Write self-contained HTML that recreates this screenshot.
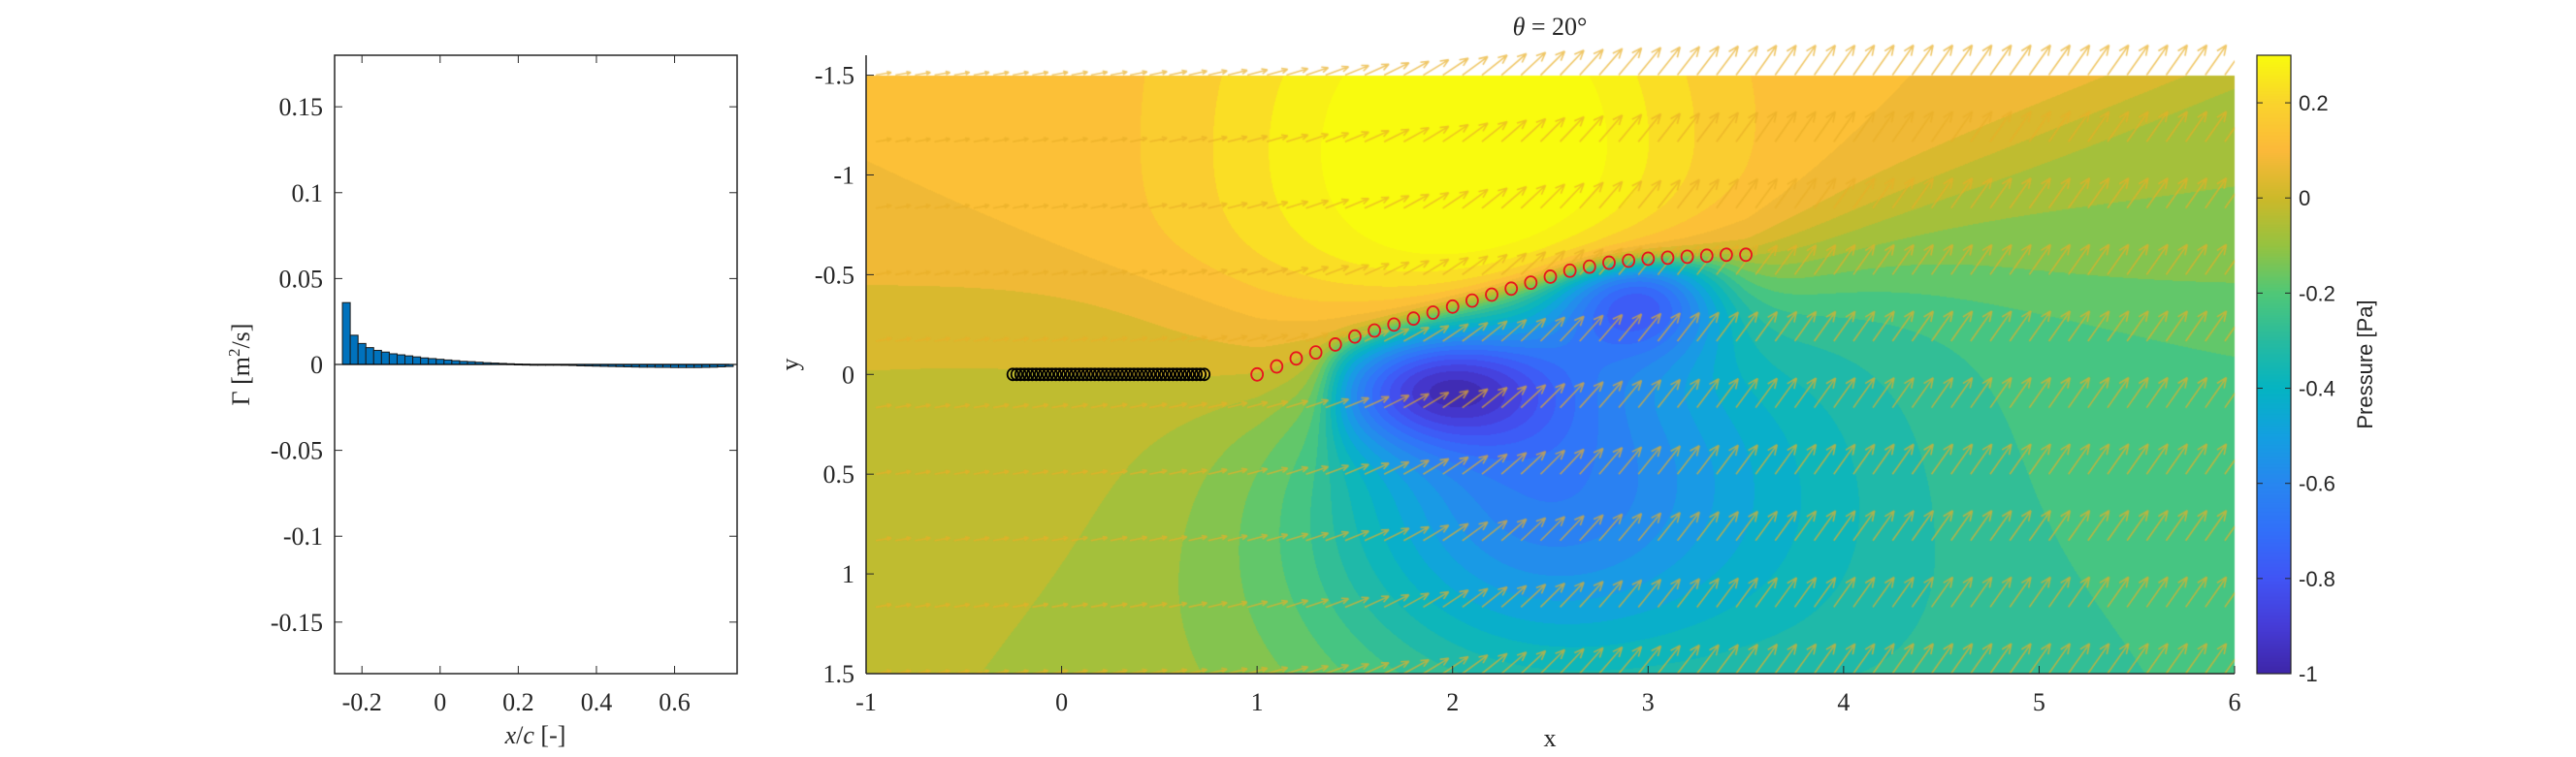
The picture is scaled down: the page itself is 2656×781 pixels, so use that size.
<!DOCTYPE html>
<html><head><meta charset="utf-8">
<style>
html,body{margin:0;padding:0;background:#fff;}
#wrap{position:relative;width:2656px;height:781px;overflow:hidden;}
canvas,svg{position:absolute;left:0;top:0;}
.tk{font-family:"Liberation Serif",serif;font-size:26px;fill:#262626;}
.cb{font-family:"Liberation Sans",sans-serif;font-size:22px;fill:#262626;}
</style></head><body>
<div id="wrap">
<canvas id="field" width="2656" height="781"></canvas>
<canvas id="quiver" width="2656" height="781"></canvas>
<svg id="chartsvg" width="2656" height="781"></svg>
</div>
<script>
// ---- data ----
const barX = [];
for (let i = 0; i < 50; i++) barX.push(-0.25 + i * 0.02);
const barVals = [0.036,0.017,0.0122,0.0098,0.0082,0.0072,0.0062,0.0056,0.005,0.0044,0.0038,0.0034,0.003,0.0026,0.0022,0.0018,0.0016,0.0013,0.001,0.0008,0.0006,0.0004,0.0002,0.0001,0,0,0,-0.0003,-0.0005,-0.0006,-0.0008,-0.0009,-0.001,-0.0011,-0.0012,-0.0013,-0.0014,-0.0015,-0.0016,-0.0016,-0.0017,-0.0017,-0.0018,-0.0018,-0.0018,-0.0018,-0.0017,-0.0016,-0.0014,-0.0012];
const leftXTicks = [-0.2,0,0.2,0.4,0.6];
const leftYTicks = [0.15,0.1,0.05,0,-0.05,-0.1,-0.15];
const rightXTicks = [-1,0,1,2,3,4,5,6];
const rightYTicks = [-1.5,-1,-0.5,0,0.5,1,1.5];
const cbTicks = [0.2,0,-0.2,-0.4,-0.6,-0.8,-1];
const wakeX = [];
for (let i = 0; i < 50; i++) wakeX.push(-0.25 + i * 0.02);
const plateX = [1.0,1.1,1.2,1.3,1.4,1.5,1.6,1.7,1.8,1.9,2.0,2.1,2.2,2.3,2.4,2.5,2.6,2.7,2.8,2.9,3.0,3.1,3.2,3.3,3.4,3.5];
const plateY = [0,-0.04,-0.08,-0.11,-0.15,-0.19,-0.22,-0.25,-0.28,-0.31,-0.34,-0.37,-0.4,-0.43,-0.46,-0.49,-0.52,-0.54,-0.56,-0.57,-0.58,-0.585,-0.59,-0.595,-0.6,-0.6];
const quiverRows = [-1.5,-1.1667,-0.8333,-0.5,-0.1667,0.1667,0.5,0.8333,1.1667,1.5];

// ---- axes geometry ----
const L = {x0:345,x1:760,y0:57,y1:695,xmin:-0.27,xmax:0.76,ymin:-0.18,ymax:0.18};
const R = {x0:893,x1:2304,y0:57,y1:695,xmin:-1,xmax:6,ymin:-1.6,ymax:1.5};
const CB = {x0:2327,x1:2362,y0:57,y1:695,vmin:-1,vmax:0.3};
const lx = v => L.x0 + (v-L.xmin)/(L.xmax-L.xmin)*(L.x1-L.x0);
const ly = v => L.y1 - (v-L.ymin)/(L.ymax-L.ymin)*(L.y1-L.y0);
const rx = v => R.x0 + (v-R.xmin)/(R.xmax-R.xmin)*(R.x1-R.x0);
const ry = v => R.y0 + (v-R.ymin)/(R.ymax-R.ymin)*(R.y1-R.y0);
const cy = v => CB.y1 - (v-CB.vmin)/(CB.vmax-CB.vmin)*(CB.y1-CB.y0);

const cmV=[-1.0,-0.9,-0.8,-0.7,-0.6,-0.5,-0.4,-0.3,-0.2,-0.1,0.0,0.1,0.2,0.3];
const cmC=[[62,38,168],[70,60,215],[65,85,245],[50,112,250],[40,135,240],[20,160,225],[5,180,195],[40,187,160],[80,200,120],[150,195,65],[205,185,42],[252,185,58],[250,212,45],[249,251,14]];
function cmap(v){if(v<=cmV[0])return cmC[0];const n=cmV.length;if(v>=cmV[n-1])return cmC[n-1];
 for(let i=0;i<n-1;i++){if(v<=cmV[i+1]){const r=(v-cmV[i])/(cmV[i+1]-cmV[i]);const a=cmC[i],b=cmC[i+1];return [a[0]+(b[0]-a[0])*r,a[1]+(b[1]-a[1])*r,a[2]+(b[2]-a[2])*r];}}}
const sig=z=>1/(1+Math.exp(-z));
const sq=z=>z*z;
function pY(x){if(x<=plateX[0])return plateY[0];const n=plateX.length;
 if(x>=plateX[n-1])return Math.max(-1.6,plateY[n-1]-0.4*(x-plateX[n-1]));
 for(let i=0;i<n-1;i++){if(x<=plateX[i+1]){const r=(x-plateX[i])/(plateX[i+1]-plateX[i]);return plateY[i]+r*(plateY[i+1]-plateY[i]);}}
 return plateY[n-1];}
function P(x,y){
 const py=pY(x);
 const below=sig((y-py)/0.03);
 const w=sig((x-1.35)/0.05)*sig((3.6-x)/0.15);
 const m=sig((y-py)/0.15);
 let p=0.1-0.1*sig((y+0.45)/0.12)-0.05*sig((y-0.9)/0.3);
 p+=0.04*sig((x-0.3)/0.3)*sig((1.3-x)/0.2)*sig((0.3-y)/0.3);
 p+=0.3*Math.exp(-sq((x-2.1)/1.1)-sq((y+1.1)/1.2))*(1-below*w);
 p+=-0.38*Math.exp(-sq((x-2.6)/1.6)-sq((y-0.5)/1.3))*m;
 p+=-0.25*Math.exp(-sq((x-2.4)/1.0)-sq((y-0.5)/0.9))*m;
 p+=-0.2*sig((x-3.5)/0.4)*m;
 p+=-0.55*Math.exp(-sq((x-2.95)/0.45)-sq((y+0.4)/0.3))*below*w;
 p+=-0.55*Math.exp(-sq((x-1.9)/0.6)-sq((y-0.05)/0.3))*below*w;
 return p;
}
(function(){
 const c=document.getElementById('field').getContext('2d');
 const X0=R.x0,X1=R.x1,Y0=Math.round(ry(-1.5)),Y1=R.y1;
 const W=X1-X0,H=Y1-Y0;
 const img=c.createImageData(W,H);
 for(let j=0;j<H;j++){const y=R.ymin+(j+Y0-R.y0)/(R.y1-R.y0)*(R.ymax-R.ymin);
  for(let i=0;i<W;i++){const x=R.xmin+i/W*(R.xmax-R.xmin);
   let p=P(x,y);p=Math.floor(p/0.05)*0.05+0.025;
   const col=cmap(p);const k=(j*W+i)*4;
   img.data[k]=col[0];img.data[k+1]=col[1];img.data[k+2]=col[2];img.data[k+3]=255;}}
 c.putImageData(img,X0,Y0);
 for(let j=CB.y0;j<CB.y1;j++){const v=CB.vmax-(j-CB.y0)/(CB.y1-CB.y0)*(CB.vmax-CB.vmin);const col=cmap(v);
  c.fillStyle='rgb('+(col[0]|0)+','+(col[1]|0)+','+(col[2]|0)+')';c.fillRect(CB.x0,j,CB.x1-CB.x0,1);}
})();
(function(){
 const c=document.getElementById('quiver').getContext('2d');
 c.strokeStyle='rgba(232,175,40,0.7)';c.lineWidth=1.6;
 c.save();c.beginPath();c.rect(R.x0,R.y0-40,R.x1-R.x0,R.y1-R.y0+40);c.clip();
 quiverRows.forEach(yr=>{
  for(let x=-0.95;x<6.0;x+=0.1){
   let ang=(10+45*sig((x-1.9)/0.45))*Math.PI/180;
   if(yr<-0.9&&x>3.5) ang=55*Math.PI/180;
   const len=16+22*sig((x-1.5)/0.5);
   const x0=rx(x),y0=ry(yr);const x1=x0+len*Math.cos(ang),y1=y0-len*Math.sin(ang);
   c.beginPath();c.moveTo(x0,y0);c.lineTo(x1,y1);
   const a1=ang+Math.PI-0.4,a2=ang+Math.PI+0.4;const hl=len*0.3;
   c.moveTo(x1,y1);c.lineTo(x1+hl*Math.cos(a1),y1-hl*Math.sin(a1));
   c.moveTo(x1,y1);c.lineTo(x1+hl*Math.cos(a2),y1-hl*Math.sin(a2));c.stroke();}
 });c.restore();
})();
const NS='http://www.w3.org/2000/svg';const svgEl=document.getElementById('chartsvg');
function el(t,a,txt){const e=document.createElementNS(NS,t);for(const k in a)e.setAttribute(k,a[k]);if(txt!==undefined)e.textContent=txt;svgEl.appendChild(e);return e;}
function tspan(parent,txt,attrs){const s=document.createElementNS(NS,'tspan');for(const k in (attrs||{}))s.setAttribute(k,attrs[k]);s.textContent=txt;parent.appendChild(s);return s;}
barX.forEach((bx,i)=>{const v=barVals[i];const xa=lx(bx),xb=lx(bx+0.02);const y0=ly(0),y1=ly(v);
 const r=el('rect',{x:xa,y:Math.min(y0,y1),width:xb-xa,height:Math.max(0.8,Math.abs(y1-y0)),fill:'#0072BD',stroke:'#1a1a1a','stroke-width':1});
 
 });
let e=el('line',{x1:L.x0,x2:L.x1,y1:ly(0),y2:ly(0),stroke:'#000','stroke-width':1.2});


e=el('rect',{x:L.x0,y:L.y0,width:L.x1-L.x0,height:L.y1-L.y0,fill:'none',stroke:'#262626','stroke-width':1.5});


leftXTicks.forEach(t=>{const x=lx(t);el('line',{x1:x,x2:x,y1:L.y1,y2:L.y1-8,stroke:'#262626'});el('line',{x1:x,x2:x,y1:L.y0,y2:L.y0+8,stroke:'#262626'});
 const s=el('text',{x:x,y:L.y1+38,'text-anchor':'middle',class:'tk'},String(t));
 
 });
leftYTicks.forEach(t=>{const y=ly(t);el('line',{x1:L.x0,x2:L.x0+8,y1:y,y2:y,stroke:'#262626'});el('line',{x1:L.x1,x2:L.x1-8,y1:y,y2:y,stroke:'#262626'});
 const s=el('text',{x:L.x0-12,y:y+9,'text-anchor':'end',class:'tk'},String(t));
 
 });
e=el('text',{x:552,y:767,'text-anchor':'middle',class:'tk'});
tspan(e,'x',{'font-style':'italic'});tspan(e,'/');tspan(e,'c',{'font-style':'italic'});tspan(e,' [-]');


e=el('text',{x:0,y:0,'text-anchor':'middle',class:'tk',transform:'translate(257,376) rotate(-90)'});
tspan(e,'Γ [m');tspan(e,'2',{dy:'-10','font-size':'17'});tspan(e,'/s]',{dy:'10'});


wakeX.forEach(wx=>{const c=el('ellipse',{cx:rx(wx),cy:ry(0),rx:5.5,ry:6,fill:'none',stroke:'#000','stroke-width':1.8});
 
 });
plateX.forEach((px,i)=>{const c=el('ellipse',{cx:rx(px),cy:ry(plateY[i]),rx:6,ry:6.5,fill:'none',stroke:'#e8141e','stroke-width':1.8});
 
 });
e=el('line',{x1:R.x0,x2:R.x0,y1:R.y0,y2:R.y1,stroke:'#262626','stroke-width':1.5});


e=el('line',{x1:R.x0,x2:R.x1,y1:R.y1,y2:R.y1,stroke:'#262626','stroke-width':1.5});


rightXTicks.forEach(t=>{const x=rx(t);el('line',{x1:x,x2:x,y1:R.y1,y2:R.y1-8,stroke:'#262626'});
 const s=el('text',{x:x,y:R.y1+38,'text-anchor':'middle',class:'tk'},String(t));
 
 });
rightYTicks.forEach(t=>{const y=ry(t);el('line',{x1:R.x0,x2:R.x0+8,y1:y,y2:y,stroke:'#262626'});
 const s=el('text',{x:R.x0-12,y:y+9,'text-anchor':'end',class:'tk'},String(t));
 
 });
e=el('text',{x:1598,y:770,'text-anchor':'middle',class:'tk'},'x');


e=el('text',{x:0,y:0,'text-anchor':'middle',class:'tk',transform:'translate(823,376) rotate(-90)'},'y');


e=el('text',{x:1598,y:36,'text-anchor':'middle',class:'tk','font-size':'28'});
tspan(e,'θ',{'font-style':'italic'});tspan(e,' = 20°');


e=el('rect',{x:CB.x0,y:CB.y0,width:CB.x1-CB.x0,height:CB.y1-CB.y0,fill:'none',stroke:'#262626','stroke-width':1.2});


cbTicks.forEach(t=>{const y=cy(t);el('line',{x1:CB.x1,x2:CB.x1-6,y1:y,y2:y,stroke:'#262626'});el('line',{x1:CB.x0,x2:CB.x0+6,y1:y,y2:y,stroke:'#262626'});
 const s=el('text',{x:CB.x1+8,y:y+8,class:'cb'},String(t));
 
 });
e=el('text',{x:0,y:0,'text-anchor':'middle',class:'cb',transform:'translate(2446,376) rotate(-90)'},'Pressure [Pa]');


</script>
</body></html>
